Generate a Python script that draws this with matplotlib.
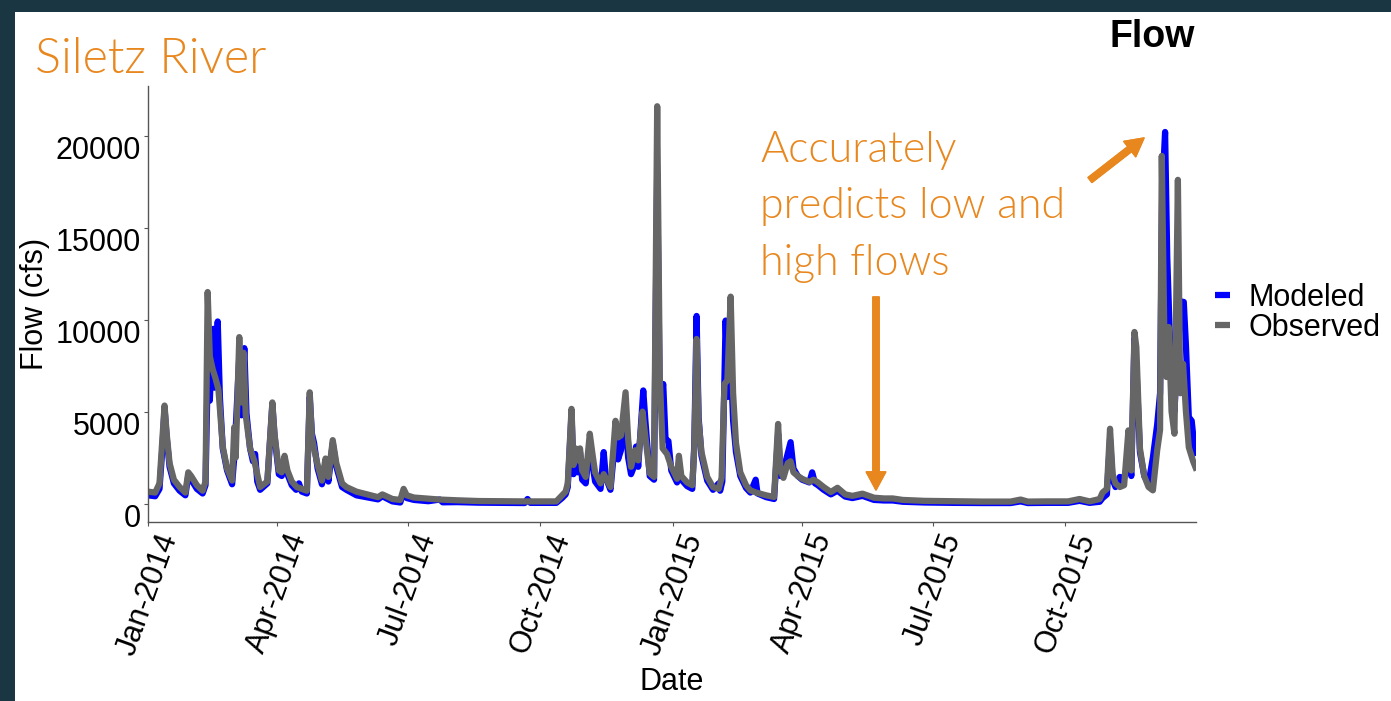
import numpy as np
import pandas as pd
import matplotlib
matplotlib.use("Agg")
import matplotlib.pyplot as plt
import matplotlib.dates as mdates
from matplotlib.patches import Rectangle

# Caudal diario del rio Siletz (cfs).
# Dias contados desde el 1 de enero de 2014
obs_dia = [0, 5, 8, 10, 11.5, 13, 15, 18, 22, 26, 28, 30, 34, 38, 40, 41.5, 43, 45, 47, 49,
           52, 55, 58.5, 60, 61, 63.5, 65, 66.5, 68, 71, 74, 78, 83, 86.5, 88, 91, 93, 95, 97, 100,
           103.5, 107, 110.5, 112.5, 114, 116, 118, 121, 123.5, 125.5, 128.5, 131, 135, 138, 145, 155,
           160, 163, 170, 175.5, 177.8, 180, 185, 195, 203, 215, 230, 245, 262, 270, 284,
           288, 290.5, 292, 294.6, 296, 297.5, 299, 300.5, 302, 304.5, 307.3, 309, 311, 314.8, 317,
           321.7, 325.2, 327, 329, 332.2, 334, 336, 339, 341, 344, 346, 349, 352, 354.2, 356, 358,
           361, 364, 368, 369.3, 371, 375, 378.6, 380, 381.6, 383, 385, 389, 393, 397, 399, 401,
           403, 405.3, 407, 409, 412, 416, 419, 423, 430, 435.5, 438.3, 440, 442, 445, 447, 449,
           452, 455, 460, 463, 466, 470, 475, 479.6, 485, 490, 497, 505, 512, 518, 525, 540, 560,
           580, 600, 607, 612, 625, 640, 648, 655, 662, 664, 667, 669.2, 671, 673, 676, 679, 681,
           682, 684, 686.2, 687.5, 690, 693, 696, 699, 702, 704, 705.2, 707, 708.5, 710, 712, 714,
           716.4, 718, 720, 722, 724, 727, 729.5]
obs_cfs = [650, 600, 1100, 3500, 5330, 3800, 2200, 1300, 900, 600, 1700, 1500, 1000, 700, 1200, 11500, 8000, 7300, 6800, 6200,
           3100, 1900, 1250, 4150, 2500, 9050, 5500, 8200, 4800, 3000, 2300, 900, 1200, 5500, 3800, 1800, 1700, 2600, 1800, 1200,
           900, 800, 700, 6050, 3600, 2800, 2100, 1250, 2450, 1450, 3450, 2200, 1100, 900, 650, 450,
           350, 500, 250, 200, 800, 450, 330, 270, 220, 180, 140, 130, 120, 120, 120,
           450, 650, 1100, 5150, 2100, 3000, 2350, 3000, 1800, 1450, 3800, 2800, 1700, 1100, 1600,
           900, 4500, 3600, 3700, 6050, 3500, 2000, 2900, 2350, 5000, 3600, 1650, 1450, 21600, 6900, 3000,
           2700, 2000, 1350, 2600, 1500, 1150, 1000, 3000, 8950, 4500, 2800, 1450, 900, 800, 1400, 6500,
           6700, 11250, 6000, 3300, 1700, 1000, 720, 600, 450, 360, 4330, 1800, 1400, 2200, 2300, 1700,
           1500, 1350, 1180, 1300, 1150, 900, 630, 860, 500, 420, 540, 320, 280, 280, 200, 150, 130,
           110, 110, 220, 110, 120, 120, 250, 120, 250, 600, 800, 4070, 1600, 1100, 900, 1000, 3000,
           3980, 1800, 9330, 8500, 3000, 1500, 900, 720, 2900, 4000, 18900, 9000, 6880, 9600, 5000, 3800,
           17600, 6000, 7600, 5000, 3060, 2300, 1800]

mod_dia = [0, 5, 8, 10, 11.5, 13, 15, 18, 22, 26, 28, 30, 34, 38, 40, 41.5, 43, 44, 45.5, 46.5,
           48.5, 50, 52, 55, 58.5, 60, 63.5, 65, 67, 68.5, 71, 73, 74.5, 76, 78, 83, 86.5, 88, 91, 93,
           95, 97, 100, 103, 105, 107, 110.5, 112.5, 114, 115.5, 118, 121, 123.5, 125.5, 128.5, 131, 135, 138,
           145, 155, 160, 163, 170, 175.5, 177.8, 180, 185, 195, 203, 205, 215, 230, 245, 262, 264, 266,
           284, 288, 290.5, 292, 294.6, 296, 297.5, 299, 300.5, 302, 304.5, 307.3, 309, 311, 314.8, 317,
           318.5, 321.7, 325.2, 327, 329, 332.2, 334, 336, 338, 339.5, 341, 344.5, 346, 349, 352, 354.2,
           356, 358.4, 360, 362, 364, 368, 369.3, 371, 375, 378.6, 380, 381.6, 383, 385, 389, 393, 397,
           398, 399.5, 401.8, 403.5, 405.3, 407, 409, 412, 416, 419, 422.7, 424, 430, 435.5, 438.3, 440,
           442, 447, 449, 452, 455, 460, 462, 464, 466, 470, 475, 479.6, 485, 490, 497, 505, 512, 518,
           525, 540, 560, 580, 600, 607, 612, 625, 640, 648, 655, 662, 664, 667, 669.2, 671, 673, 676,
           678, 681, 682, 684, 686.2, 687.5, 690, 693, 696, 699, 702, 704, 705.5, 707.5, 709, 710.5, 712,
           714, 716, 718, 720.5, 722, 724, 726, 728, 729.5]
mod_cfs = [450, 400, 800, 3000, 5200, 3600, 2000, 1100, 700, 450, 1500, 1300, 800, 550, 1000, 7000, 5600, 7500, 9500, 6300,
           9900, 5800, 3000, 1800, 1050, 2500, 8000, 4800, 8450, 4900, 3000, 2300, 2700, 1200, 750, 1100, 5400, 3700, 1600, 1500,
           2400, 1600, 1000, 750, 1100, 650, 550, 5800, 3800, 3300, 1900, 1050, 2200, 1200, 3300, 2000, 900, 750,
           450, 300, 230, 400, 120, 60, 650, 300, 200, 130, 220, 70, 80, 50, 40, 30, 250, 40,
           40, 300, 500, 900, 4900, 1600, 2600, 1700, 2800, 1300, 1100, 3300, 2200, 1200, 800, 2800,
           1400, 750, 3700, 2400, 2900, 4700, 2500, 1600, 2000, 3100, 2000, 6150, 4500, 1500, 1300, 18000,
           5500, 6500, 3500, 3400, 1800, 1150, 2200, 1300, 950, 800, 3200, 10200, 4700, 2600, 1250, 750, 1100,
           700, 1200, 9950, 5800, 8000, 4500, 2800, 1500, 850, 600, 1300, 550, 350, 250, 3800, 1500,
           1800, 3340, 1900, 1500, 1300, 1150, 1700, 1100, 1000, 750, 500, 700, 380, 300, 420, 200, 170, 170,
           100, 60, 40, 30, 30, 120, 30, 40, 40, 150, 40, 100, 300, 500, 3500, 1300, 900, 1450,
           1100, 2000, 3000, 1500, 9000, 7500, 2800, 1500, 1100, 2500, 4300, 6000, 17000, 20200, 13400, 9800, 6000,
           5000, 8000, 11000, 10960, 8600, 4700, 4500, 3000, 2600]

inicio = pd.Timestamp("2014-01-01")
fechas_obs = inicio + pd.to_timedelta(obs_dia, unit="D")
fechas_mod = inicio + pd.to_timedelta(mod_dia, unit="D")

naranja = "#E8871E"
fuente = ["Liberation Sans", "DejaVu Sans"]
fuente_fina = ["Lato", "DejaVu Sans"]

fig = plt.figure(figsize=(13.91, 7.01), dpi=100)
fig.patch.set_facecolor("#1a3642")
# zona blanca de la diapositiva
fig.patches.append(Rectangle((15 / 1391, 0), 1, (701 - 12) / 701, transform=fig.transFigure,
                             facecolor="white", edgecolor="none", zorder=-5))

ax = fig.add_axes([148 / 1391, (701 - 522) / 701, (1196 - 148) / 1391, (522 - 86) / 701])
ax.set_facecolor("white")

ax.plot(fechas_mod, mod_cfs, color="#0000ff", lw=4.5, label="Modeled",
        solid_joinstyle="round", solid_capstyle="butt")
ax.plot(fechas_obs, obs_cfs, color="#666666", lw=4.5, label="Observed",
        solid_joinstyle="round", solid_capstyle="butt")

ax.set_xlim(pd.Timestamp("2014-01-01"), pd.Timestamp("2015-12-31"))
ax.set_ylim(-1000, 22700)
ax.set_yticks([0, 5000, 10000, 15000, 20000])
ax.xaxis.set_major_locator(mdates.MonthLocator(bymonth=[1, 4, 7, 10]))
ax.xaxis.set_major_formatter(mdates.DateFormatter("%b-%Y"))

for s in ["top", "right"]:
    ax.spines[s].set_visible(False)
for s in ["left", "bottom"]:
    ax.spines[s].set_color("#555555")
    ax.spines[s].set_linewidth(1.0)

ax.tick_params(axis="both", length=3, width=0.8, color="#555555", pad=2, labelsize=22)
for t in ax.get_yticklabels():
    t.set_fontfamily(fuente)
    t.set_verticalalignment("top")
for t in ax.get_xticklabels():
    t.set_fontfamily(fuente)
    t.set_rotation(70)
    t.set_horizontalalignment("center")

ax.set_xlabel("Date", fontsize=22, family=fuente)
ax.set_ylabel("Flow (cfs)", fontsize=22, family=fuente)
ax.xaxis.set_label_coords(0.5, -(667 - 522) / 436)
ax.yaxis.set_label_coords((50 - 148) / 1048, 0.5)

leg = ax.legend(loc="center left", bbox_to_anchor=((1215 - 148) / 1048, (522 - 313) / 436),
                frameon=False, handlelength=0.5, handletextpad=0.6,
                labelspacing=0.0, borderpad=0, borderaxespad=0, prop={"family": fuente, "size": 22})

# textos de la diapositiva
fig.text(35 / 1391, (701 - 73) / 701, "Siletz River", color=naranja, fontsize=35,
         family=fuente_fina, fontweight=300, va="baseline", ha="left")
fig.text(1195 / 1391, (701 - 47) / 701, "Flow", color="black", fontsize=27,
         family=fuente, fontweight="bold", va="baseline", ha="right")
lineas = ["Accurately", "predicts low and", "high flows"]
for i, linea in enumerate(lineas):
    fig.text(760 / 1391, (701 - 162 - 56.5 * i) / 701, linea, color=naranja, fontsize=31,
             family=fuente_fina, fontweight=300, va="baseline", ha="left")

# flechas
flecha = dict(width=4.5, headwidth=14, headlength=13, color=naranja, shrink=0)
fig.add_artist(plt.annotate("", xy=(876, 701 - 490), xytext=(876, 701 - 297),
                            xycoords="figure pixels", textcoords="figure pixels", arrowprops=flecha))
fig.add_artist(plt.annotate("", xy=(1144, 701 - 138), xytext=(1090, 701 - 180),
                            xycoords="figure pixels", textcoords="figure pixels", arrowprops=flecha))

plt.savefig("out.png", dpi=100, facecolor=fig.get_facecolor())
